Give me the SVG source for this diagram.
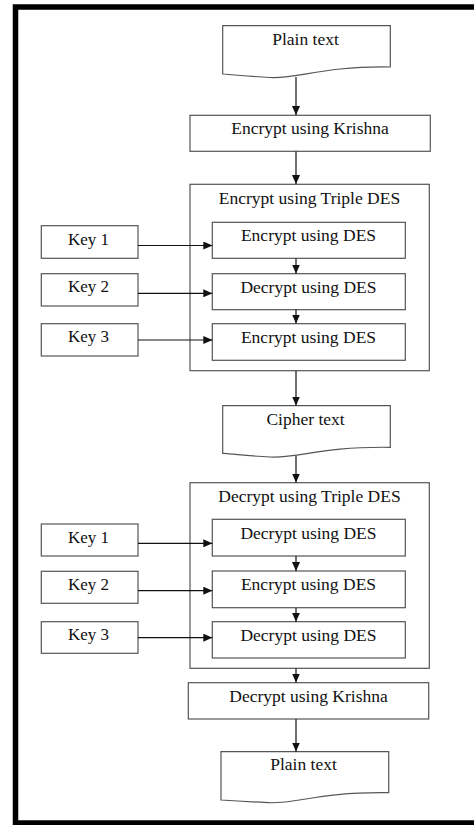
<svg xmlns="http://www.w3.org/2000/svg" width="474" height="825" viewBox="0 0 474 825">
<style>
.box{fill:#fff;stroke:#555;stroke-width:1.2}
.t{font-family:"Liberation Serif","Times New Roman",serif;font-size:17.5px;fill:#111;text-anchor:middle}
.k{font-size:17px}
.c{stroke:#111;stroke-width:1.2;fill:none;marker-end:url(#ah)}
</style>
<defs>
<marker id="ah" markerUnits="userSpaceOnUse" markerWidth="9" markerHeight="8" refX="9" refY="4" orient="auto">
<path d="M0,0 L9,4 L0,8 z" fill="#111"/>
</marker>
</defs>
<rect x="0" y="0" width="474" height="825" fill="#fff"/>
<rect x="15.5" y="7" width="470" height="816" fill="none" stroke="#000" stroke-width="5.5"/>

<g id="plain1">
<path class="box" d="M222.7,25.7 H390.3 V67 C320,66 300,79 270,77.5 C250,76.5 235,75 222.7,74 Z"/>
<text class="t" x="305.5" y="45">Plain text</text>
</g>
<g id="encKrishna">
<rect class="box" x="190" y="115.3" width="240.3" height="36"/>
<text class="t" x="310" y="134">Encrypt using Krishna</text>
</g>
<g id="enc3des">
<rect class="box" x="190" y="184.3" width="239.3" height="186.4"/>
<text class="t" x="309.5" y="204">Encrypt using Triple DES</text>
</g>
<g id="ekey1">
<rect class="box" x="41.3" y="225.7" width="96.7" height="32.6"/>
<text class="t k" x="88.5" y="244.5">Key 1</text>
</g>
<g id="ekey2">
<rect class="box" x="41.3" y="273.7" width="96.7" height="32.3"/>
<text class="t k" x="88.5" y="292">Key 2</text>
</g>
<g id="ekey3">
<rect class="box" x="41.3" y="323.7" width="96.7" height="32.3"/>
<text class="t k" x="88.5" y="342">Key 3</text>
</g>
<g id="edes1">
<rect class="box" x="212.3" y="222.3" width="193" height="36"/>
<text class="t" x="308.5" y="241">Encrypt using DES</text>
</g>
<g id="edes2">
<rect class="box" x="212.3" y="273.7" width="193" height="36"/>
<text class="t" x="308.5" y="292.5">Decrypt using DES</text>
</g>
<g id="edes3">
<rect class="box" x="212.3" y="323.7" width="193" height="36.6"/>
<text class="t" x="308.5" y="342.5">Encrypt using DES</text>
</g>
<g id="cipher">
<path class="box" d="M222.7,405.7 H390.3 V447.3 C320,446.3 300,458.5 270,457 C250,456 235,454.5 222.7,453.3 Z"/>
<text class="t" x="305.5" y="424.5">Cipher text</text>
</g>
<g id="dec3des">
<rect class="box" x="190" y="482.7" width="239.3" height="185.6"/>
<text class="t" x="309.5" y="502">Decrypt using Triple DES</text>
</g>
<g id="dkey1">
<rect class="box" x="41.3" y="524" width="96.7" height="32"/>
<text class="t k" x="88.5" y="542.5">Key 1</text>
</g>
<g id="dkey2">
<rect class="box" x="41.3" y="571.3" width="96.7" height="32"/>
<text class="t k" x="88.5" y="590">Key 2</text>
</g>
<g id="dkey3">
<rect class="box" x="41.3" y="621.7" width="96.7" height="31.6"/>
<text class="t k" x="88.5" y="640">Key 3</text>
</g>
<g id="ddes1">
<rect class="box" x="212.3" y="519.3" width="193" height="36.7"/>
<text class="t" x="308.5" y="538.5">Decrypt using DES</text>
</g>
<g id="ddes2">
<rect class="box" x="212.3" y="571" width="193" height="36.7"/>
<text class="t" x="308.5" y="590">Encrypt using DES</text>
</g>
<g id="ddes3">
<rect class="box" x="212.3" y="621.7" width="193" height="36.3"/>
<text class="t" x="308.5" y="640.5">Decrypt using DES</text>
</g>
<g id="decKrishna">
<rect class="box" x="188.3" y="682.7" width="240.4" height="36.3"/>
<text class="t" x="308.5" y="701.7">Decrypt using Krishna</text>
</g>
<g id="plain2">
<path class="box" d="M221,751.7 H388.7 V792.7 C318,791.7 298,804 268,802.7 C248,801.7 233,800.8 221,800 Z"/>
<text class="t" x="303.5" y="770">Plain text</text>
</g>

<g id="connectors">
<line class="c" x1="296" y1="77" x2="296" y2="115"/>
<line class="c" x1="296" y1="151.5" x2="296" y2="184"/>
<line class="c" x1="296" y1="258.5" x2="296" y2="273.5"/>
<line class="c" x1="296" y1="309.5" x2="296" y2="323.5"/>
<line class="c" x1="138" y1="245.5" x2="212.3" y2="245.5"/>
<line class="c" x1="138" y1="293.3" x2="212.3" y2="293.3"/>
<line class="c" x1="138" y1="340" x2="212.3" y2="340"/>
<line class="c" x1="296" y1="371" x2="296" y2="405.5"/>
<line class="c" x1="296" y1="456" x2="296" y2="482.5"/>
<line class="c" x1="296" y1="556" x2="296" y2="571"/>
<line class="c" x1="296" y1="607.7" x2="296" y2="621.7"/>
<line class="c" x1="138" y1="543.3" x2="212.3" y2="543.3"/>
<line class="c" x1="138" y1="590.7" x2="212.3" y2="590.7"/>
<line class="c" x1="138" y1="637.7" x2="212.3" y2="637.7"/>
<line class="c" x1="296" y1="668.5" x2="296" y2="682.5"/>
<line class="c" x1="296" y1="719" x2="296" y2="751.5"/>
</g>
</svg>
